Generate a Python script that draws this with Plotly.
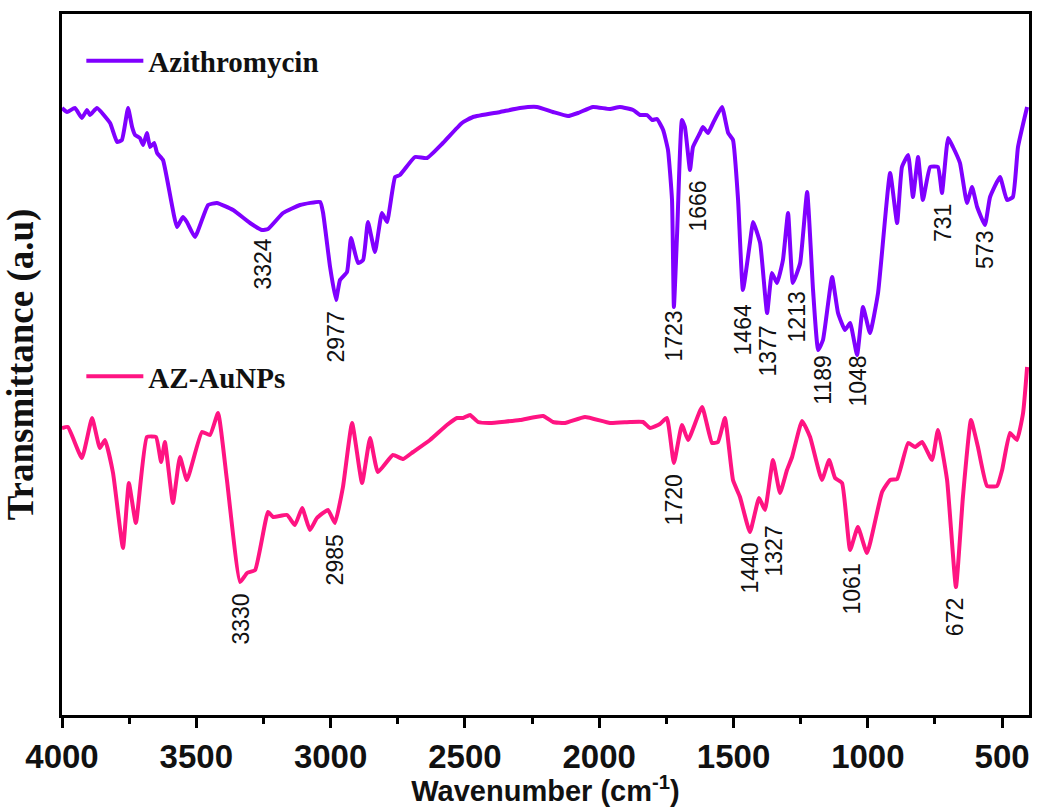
import plotly.graph_objects as go

# ---- data (wavenumber in cm-1, transmittance in arbitrary units) ----
az_wavenumber = [4000, 3981, 3952, 3926, 3907, 3896, 3870, 3821, 3795, 3777, 3754, 3739, 3728, 3710,
                 3698, 3684, 3672, 3657, 3646, 3624, 3572, 3550, 3535, 3505, 3456, 3423, 3363, 3300,
                 3255, 3233, 3177, 3114, 3039, 3028, 3002, 2980, 2965, 2939, 2924, 2898, 2879, 2861,
                 2835, 2809, 2790, 2760, 2742, 2686, 2641, 2582, 2511, 2470, 2369, 2295, 2232, 2172,
                 2116, 2079, 2023, 1960, 1923, 1874, 1848, 1822, 1803, 1785, 1762, 1744, 1729, 1722,
                 1710, 1692, 1681, 1662, 1651, 1625, 1614, 1595, 1576, 1543, 1520, 1502, 1483, 1465,
                 1439, 1427, 1401, 1375, 1357, 1338, 1316, 1297, 1279, 1252, 1226, 1204, 1185, 1167,
                 1133, 1111, 1085, 1066, 1040, 1018, 992, 962, 917, 891, 873, 850, 832, 813, 795, 768,
                 739, 724, 701, 683, 657, 631, 612, 593, 564, 545, 508, 482, 460, 441, 407]
az_transmittance = [60.7, 60.3, 60.7, 59.7, 60.5, 60.0, 60.7, 59.2, 57.3, 57.5, 60.7, 58.8, 58.0, 57.7,
                    57.0, 58.2, 56.8, 57.2, 56.2, 55.5, 48.8, 49.8, 49.3, 47.8, 51.0, 51.2, 50.5, 49.2,
                    48.5, 48.6, 50.2, 51.0, 51.3, 50.2, 44.8, 41.5, 43.5, 44.3, 47.7, 45.2, 45.5, 49.3,
                    46.3, 50.2, 49.3, 53.8, 54.0, 55.8, 55.7, 57.2, 59.2, 59.8, 60.3, 60.7, 60.8, 60.3,
                    59.9, 60.2, 60.8, 60.6, 60.8, 60.5, 60.0, 60.0, 59.5, 59.6, 58.5, 56.5, 51.5, 40.8,
                    48.2, 59.5, 58.8, 54.5, 56.8, 58.2, 58.8, 58.2, 59.2, 60.8, 58.2, 57.5, 51.5, 42.5,
                    47.2, 49.3, 47.2, 40.2, 44.2, 43.2, 45.5, 50.2, 43.2, 45.2, 52.3, 42.5, 36.5, 37.5,
                    43.8, 40.2, 38.5, 39.2, 36.0, 40.8, 38.2, 42.2, 54.2, 49.2, 54.8, 56.0, 51.8, 55.8,
                    51.5, 54.8, 54.8, 52.2, 57.7, 56.8, 55.2, 51.2, 52.8, 50.8, 49.0, 51.8, 53.8, 51.5,
                    51.8, 56.8, 60.8]

np_wavenumber = [4000, 3978, 3926, 3888, 3859, 3840, 3810, 3773, 3751, 3725, 3684, 3650, 3631, 3617,
                 3587, 3561, 3535, 3479, 3449, 3419, 3386, 3337, 3311, 3281, 3233, 3214, 3162, 3133,
                 3106, 3077, 3051, 3010, 2984, 2954, 2920, 2883, 2853, 2824, 2768, 2730, 2693, 2630,
                 2567, 2529, 2507, 2481, 2451, 2407, 2295, 2209, 2172, 2127, 2053, 1960, 1885, 1837,
                 1811, 1774, 1748, 1722, 1692, 1669, 1617, 1580, 1558, 1532, 1502, 1476, 1439, 1405,
                 1383, 1353, 1327, 1301, 1282, 1245, 1215, 1171, 1144, 1122, 1096, 1066, 1037, 1003,
                 947, 917, 891, 850, 824, 798, 761, 739, 705, 672, 646, 616, 590, 556, 519, 500, 471,
                 445, 422, 407]
np_transmittance = [28.7, 28.8, 25.7, 29.7, 26.7, 27.5, 24.2, 16.7, 23.2, 19.2, 27.8, 27.8, 25.3, 27.3,
                    21.2, 25.8, 23.5, 28.3, 28.0, 30.2, 23.5, 13.3, 14.2, 14.5, 20.3, 19.8, 20.0, 19.0,
                    20.7, 18.5, 19.7, 20.5, 19.2, 22.8, 29.2, 23.2, 27.7, 24.3, 26.0, 25.6, 26.3, 27.5,
                    29.0, 29.7, 29.7, 30.0, 29.3, 29.2, 29.5, 29.9, 29.3, 29.2, 29.8, 29.2, 29.3, 29.3,
                    28.7, 29.1, 29.7, 25.2, 29.0, 27.5, 30.8, 27.2, 27.3, 29.7, 23.5, 21.8, 18.3, 21.7,
                    20.5, 25.5, 22.2, 24.5, 25.8, 29.4, 27.8, 23.5, 25.5, 23.7, 23.2, 16.5, 18.8, 16.2,
                    22.3, 23.5, 23.6, 27.2, 26.8, 27.3, 25.5, 28.5, 23.5, 12.8, 21.8, 29.5, 26.8, 22.9,
                    22.9, 24.5, 28.2, 27.5, 30.2, 34.8]

# peak labels: text, and the point (wavenumber, transmittance) where the label's top sits
az_peak_text = ["3324", "2977", "1723", "1666", "1464", "1377", "1213", "1189", "1048", "731", "573"]
az_peak_x = [3255, 2980, 1725, 1636, 1465, 1375, 1264, 1170, 1040, 720, 564]
az_peak_y = [47.7, 40.5, 40.5, 53.5, 41.2, 39.0, 42.5, 36.0, 36.0, 51.2, 48.5]

np_peak_text = ["3330", "2985", "1720", "1440", "1327", "1061", "672"]
np_peak_x = [3337, 2984, 1722, 1442, 1353, 1059, 675]
np_peak_y = [12.2, 18.2, 24.2, 17.3, 19.0, 15.3, 11.8]

x_tick_values = [4000, 3500, 3000, 2500, 2000, 1500, 1000, 500]
x_tick_labels = ["4000", "3500", "3000", "2500", "2000", "1500", "1000", "500"]

AZ_COLOR = "#8000FF"
NP_COLOR = "#FF1482"

fig = go.Figure()
fig.add_trace(go.Scatter(x=az_wavenumber, y=az_transmittance, mode="lines", name="Azithromycin",
                         line=dict(color=AZ_COLOR, width=4, shape="spline", smoothing=0.4),
                         legend="legend"))
fig.add_trace(go.Scatter(x=np_wavenumber, y=np_transmittance, mode="lines", name="AZ-AuNPs",
                         line=dict(color=NP_COLOR, width=4, shape="spline", smoothing=0.4),
                         legend="legend2"))

annotations = []
for t, x, y in list(zip(az_peak_text, az_peak_x, az_peak_y)) + list(zip(np_peak_text, np_peak_x, np_peak_y)):
    annotations.append(dict(x=x, y=y, xref="x", yref="y", text=t, showarrow=False, textangle=-90,
                            xanchor="center", yanchor="top", borderpad=0,
                            font=dict(family="Liberation Sans, Arial", size=23, color="#111111")))

legend_font = dict(family="Liberation Serif, Times New Roman", size=29, color="#111111", weight="bold")

fig.update_layout(
    width=1037, height=807,
    margin=dict(l=62, r=8, t=14, b=92, autoexpand=False),
    paper_bgcolor="white", plot_bgcolor="white",
    showlegend=True,
    legend=dict(x=0.02, y=0.933, xanchor="left", yanchor="middle", font=legend_font,
                bgcolor="rgba(0,0,0,0)", itemwidth=57),
    legend2=dict(x=0.02, y=0.483, xanchor="left", yanchor="middle", font=legend_font,
                 bgcolor="rgba(0,0,0,0)", itemwidth=57),
    annotations=annotations,
    xaxis=dict(
        range=[4000, 400], tickmode="array", tickvals=x_tick_values, ticktext=x_tick_labels,
        automargin=False,
        ticks="outside", ticklen=10, tickwidth=3, tickcolor="black",
        minor=dict(dtick=250, ticks="outside", ticklen=6, tickwidth=3, tickcolor="black", showgrid=False),
        showline=True, linewidth=3, linecolor="black", mirror=True, showgrid=False, zeroline=False,
        tickfont=dict(family="Liberation Sans, Arial", size=33, color="#111111", weight="bold"),
        title=dict(text="Wavenumber (cm<sup>-1</sup>)", standoff=0,
                   font=dict(family="Liberation Sans, Arial", size=29, color="#111111", weight="bold")),
    ),
    yaxis=dict(
        range=[0, 70.1], showticklabels=False, ticks="", showgrid=False, zeroline=False,
        automargin=False,
        showline=True, linewidth=3, linecolor="black", mirror=True,
        title=dict(text="Transmittance (a.u)", standoff=16,
                   font=dict(family="Liberation Serif, Times New Roman", size=37, color="#111111", weight="bold")),
    ),
)

fig.write_html("out.html", config={"displayModeBar": False},
               post_script="document.body.style.margin='0';document.body.style.overflow='hidden';")
